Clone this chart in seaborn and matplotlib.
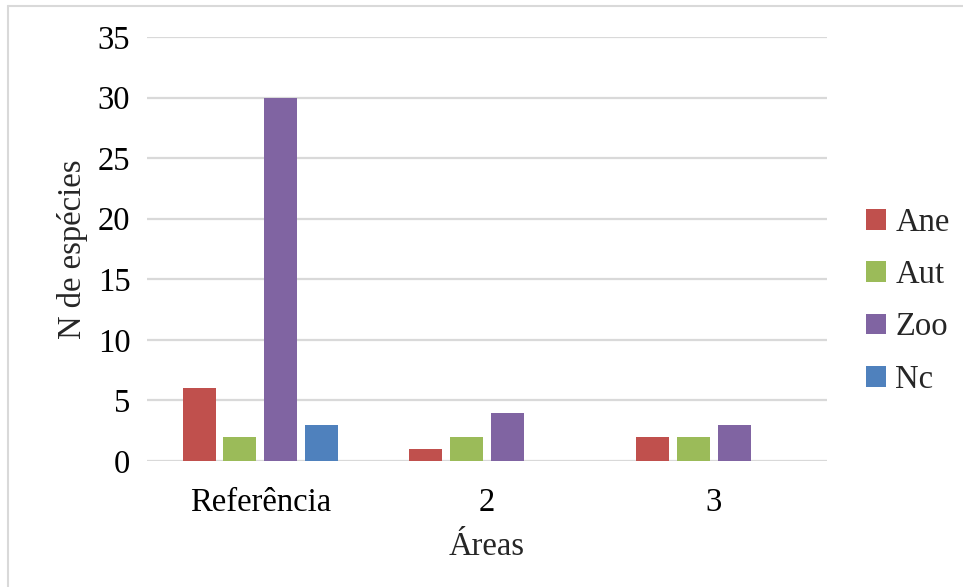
import matplotlib
matplotlib.use("Agg")
import matplotlib.pyplot as plt
from matplotlib.lines import Line2D
from matplotlib.patches import Patch
import seaborn as sns
import pandas as pd

areas = ["Referência", "2", "3"]
groups = ["Ane", "Aut", "Zoo", "Nc"]
ane = [6, 1, 2]
aut = [2, 2, 2]
zoo = [30, 4, 3]
nc = [3, 0, 0]
colors = ["#C0504D", "#9BBB59", "#8064A2", "#4F81BD"]
yticks = [0, 5, 10, 15, 20, 25, 30, 35]

df = pd.DataFrame({
    "Área": areas * 4,
    "Grupo": [g for g in groups for _ in areas],
    "N": ane + aut + zoo + nc,
})

sns.set_theme(style="white")
plt.rcParams["font.family"] = ["Liberation Serif", "DejaVu Serif"]

FS = 23.5
W, H = 963, 587
fig = plt.figure(figsize=(W / 100, H / 100), dpi=100)
ax = fig.add_axes([147 / W, 1 - 461 / H, (827 - 147) / W, (461 - 37) / H])

sns.barplot(data=df, x="Área", y="N", hue="Grupo", hue_order=groups,
            palette=colors, width=0.72, gap=0.19, ax=ax, legend=False,
            edgecolor="none", linewidth=0, saturation=1)

ax.set_ylim(0, 35)
ax.set_xlim(-0.5, 2.5)
ax.set_yticks(yticks)
ax.yaxis.grid(True, color="#D9D9D9", linewidth=1.6)
ax.set_axisbelow(True)
for s in ax.spines.values():
    s.set_visible(False)
ax.tick_params(axis="both", length=0, labelsize=FS, colors="black")
ax.tick_params(axis="y", pad=12)
ax.tick_params(axis="x", pad=19)
ax.set_xlabel("Áreas", fontsize=FS, labelpad=10)
ax.set_ylabel("N de espécies", fontsize=FS, labelpad=7)

handles = [Patch(facecolor=c, edgecolor="none") for c in colors]
fig.legend(handles, groups, loc="center left", bbox_to_anchor=(866 / W, 1 - 301 / H),
           frameon=False, fontsize=FS, handlelength=0.6, handleheight=0.6,
           handletextpad=0.3, labelspacing=0.67, borderpad=0, borderaxespad=0)

# outer chart frame (top and left edges)
fig.add_artist(Line2D([8 / W, 1.0], [1 - 5.5 / H, 1 - 5.5 / H], color="#D9D9D9",
                      linewidth=1.5, transform=fig.transFigure))
fig.add_artist(Line2D([8 / W, 8 / W], [0.0, 1 - 5.5 / H], color="#D9D9D9",
                      linewidth=1.5, transform=fig.transFigure))

fig.savefig("out.png", dpi=100, facecolor="white")
